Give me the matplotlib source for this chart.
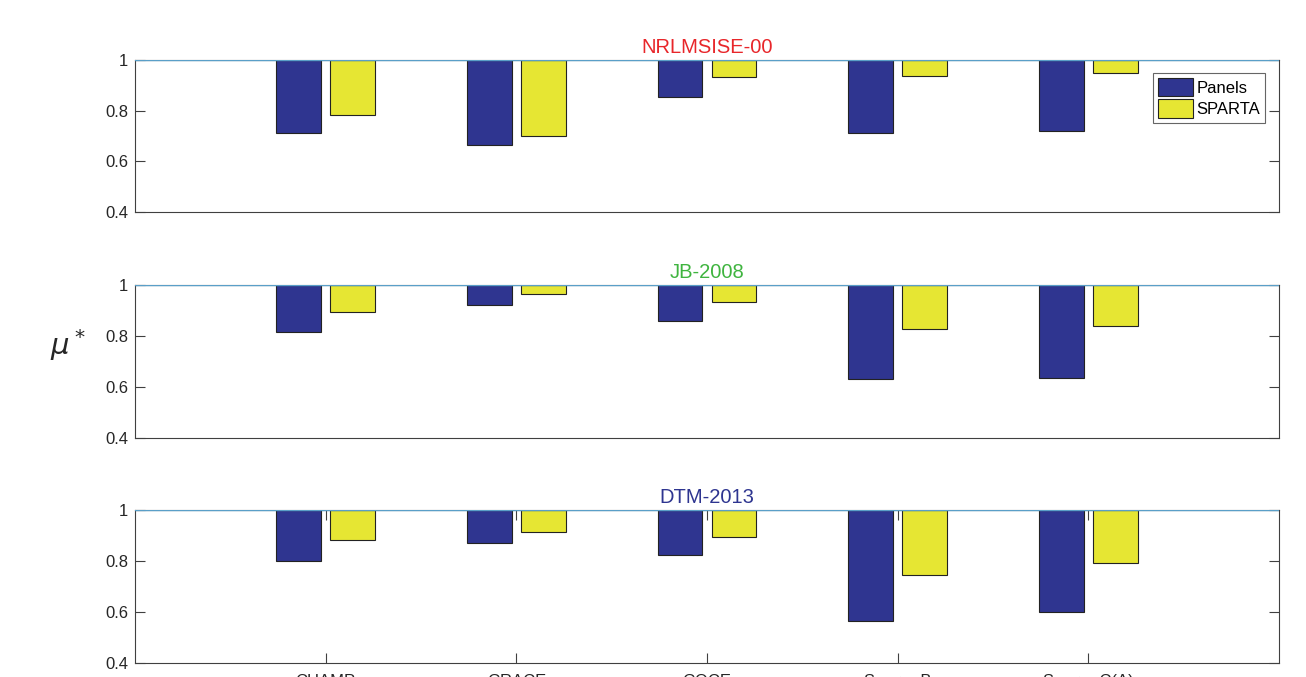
import matplotlib
matplotlib.use('Agg')
import matplotlib.pyplot as plt
import numpy as np

# satellites and models
satellites = ['CHAMP', 'GRACE', 'GOCE', 'Swarm-B', 'Swarm-C(A)']
models = ['NRLMSISE-00', 'JB-2008', 'DTM-2013']
title_colors = ['#E8262A', '#3FB43F', '#2E3590']

# mu* values (Panels / SPARTA)
panels_nrl = [0.711, 0.664, 0.854, 0.711, 0.719]
sparta_nrl = [0.783, 0.700, 0.933, 0.937, 0.949]
panels_jb = [0.816, 0.922, 0.859, 0.631, 0.635]
sparta_jb = [0.894, 0.965, 0.933, 0.827, 0.839]
panels_dtm = [0.800, 0.871, 0.824, 0.565, 0.600]
sparta_dtm = [0.882, 0.914, 0.894, 0.745, 0.792]

panels_all = [panels_nrl, panels_jb, panels_dtm]
sparta_all = [sparta_nrl, sparta_jb, sparta_dtm]

blue = '#2F3590'
yellow = '#E6E633'
axcol = '#404040'

plt.rcParams['font.family'] = ['Liberation Sans', 'DejaVu Sans']

fig = plt.figure(figsize=(13.06, 6.77), dpi=100)

W = 1306.0
H = 677.0
tops = [60, 285, 510]
bottoms = [212, 438, 663]
x = np.arange(1, len(satellites) + 1)
bw = 0.235
off = 0.142

for i in range(3):
    ax = fig.add_axes([135 / W, 1 - bottoms[i] / H, 1144 / W, (bottoms[i] - tops[i]) / H])
    p = np.array(panels_all[i])
    s = np.array(sparta_all[i])
    # bars hang down from the baseline at 1
    ax.bar(x - off, p - 1, bottom=1, width=bw, color=blue, edgecolor='#222222',
           linewidth=0.8, label='Panels', zorder=2)
    ax.bar(x + off, s - 1, bottom=1, width=bw, color=yellow, edgecolor='#222222',
           linewidth=0.8, label='SPARTA', zorder=2)
    ax.axhline(1, color='#5A9FC8', linewidth=1.0, zorder=3)
    ax.set_xlim(0, 6)
    ax.set_ylim(0.4, 1)
    ax.set_yticks([0.4, 0.6, 0.8, 1.0])
    ax.set_yticklabels(['0.4', '0.6', '0.8', '1'])
    for sp in ax.spines.values():
        sp.set_color(axcol)
        sp.set_linewidth(0.8)
    ax.tick_params(axis='y', direction='in', length=7, width=0.8, colors=axcol,
                   labelcolor='#262626', labelsize=12, right=True, pad=5)
    if i == 2:
        ax.set_xticks(x)
        ax.set_xticklabels(satellites)
        ax.tick_params(axis='x', direction='in', length=7, width=0.8, colors=axcol,
                       labelcolor='#262626', labelsize=12, top=True, pad=8)
    else:
        ax.set_xticks([])
    ax.set_title(models[i], color=title_colors[i], fontsize=14.5, pad=5)
    if i == 0:
        leg = ax.legend(loc='upper right', bbox_to_anchor=(0.988, 0.915), fontsize=12,
                        frameon=True, fancybox=False, edgecolor=axcol,
                        handlelength=2.1, handleheight=1.3, handletextpad=0.2,
                        borderpad=0.3, labelspacing=0.2, borderaxespad=0)
        leg.get_frame().set_linewidth(0.8)

fig.text(68 / W, 1 - 345 / H, r'$\mu^*$', fontsize=21, ha='center', va='center',
         color='#262626')

fig.savefig('out.png', dpi=100)
